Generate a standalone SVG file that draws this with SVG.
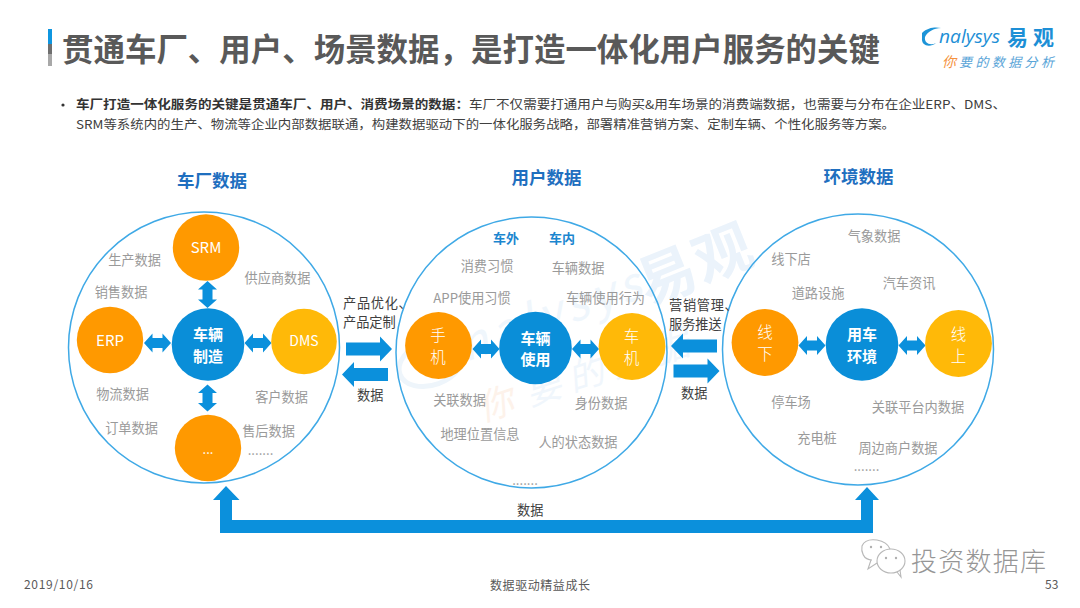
<svg xmlns="http://www.w3.org/2000/svg" width="1080" height="608" viewBox="0 0 1080 608">
<style>
text{font-family:"Noto Sans CJK SC","Noto Sans",sans-serif}
.lbl,.blk,.hd,.sub,.w,.wb,.foot{dominant-baseline:central;transform:translateY(-1.5px)}
.lbl{font-size:13.2px;fill:#9a9a9a;text-anchor:middle}
.blk{font-size:13.2px;fill:#404040;letter-spacing:.7px}
.hd{font-size:17.5px;font-weight:700;fill:#1f6fbf;text-anchor:middle}
.sub{font-size:13px;font-weight:700;fill:#1b86cf;text-anchor:middle}
.ring{fill:none;stroke:#3fa9e6;stroke-width:1.5}
.org{fill:#ff9900}.yel{fill:#ffb908}.blu{fill:#0a8ed8}
.w{fill:#fff;text-anchor:middle;font-size:15px}
.t{font-size:15.5px;font-weight:300}
.wb{fill:#fff;text-anchor:middle;font-size:15px;font-weight:700}
.ar{fill:#0b90dc}
.foot{font-size:12px;fill:#595959}
</style>
<defs>
<polygon id="dh" class="ar" points="-13.5,0 -5,-9.5 -5,-5 5,-5 5,-9.5 13.5,0 5,9.5 5,5 -5,5 -5,9.5"/>
<polygon id="ra" class="ar" points="-23,-6.5 11,-6.5 11,-12.5 23,0 11,12.5 11,6.5 -23,6.5"/>
</defs>
<rect width="1080" height="608" fill="#fff"/>

<g id="watermark">
<ellipse cx="431" cy="363" rx="33" ry="22" transform="rotate(-20 431 363)" fill="none" stroke="#eef5fb" stroke-width="5"/>
<text transform="translate(466 362) rotate(-20)" font-size="46" font-style="italic" fill="#eff6fc" textLength="190">nalysys</text>
<text transform="translate(648 306) rotate(-22)" font-size="58" font-weight="700" fill="#ebf3fb" textLength="118">易观</text>
<text transform="translate(482 422) rotate(-18)" font-size="36" font-style="italic" fill="#fdf2ea">你</text>
<text transform="translate(530 406) rotate(-18)" font-size="36" font-style="italic" fill="#f0f6fc" textLength="170">要的数据</text>
</g>

<g id="title">
<rect x="48" y="29" width="4" height="15" fill="#0f96e0"/>
<rect x="48" y="44" width="4" height="10" fill="#6f6f6f"/>
<rect x="48" y="54" width="4" height="12" fill="#a8a8a8"/>
<text x="62" y="47" font-size="31.5" font-weight="700" fill="#595959" dominant-baseline="central" textLength="818" lengthAdjust="spacingAndGlyphs">贯通车厂、用户、场景数据，是打造一体化用户服务的关键</text>
</g>

<g id="logo">
<path d="M922 33C928 27 936 27 941 28C934 28 927 32 925 37C924 43 930 46 936 43C930 48 921 46 922 38C922 36 922 34 922 33Z" fill="#1d94d8"/>
<text x="939" y="43" font-size="18" font-style="italic" fill="#1d8fd6" textLength="61" lengthAdjust="spacingAndGlyphs" style="font-family:'Open Sans',sans-serif">nalysys</text>
<text x="1007" y="35.5" font-size="21" font-weight="700" fill="#1d8fd6" dominant-baseline="central" textLength="47">易观</text>
<text x="942" y="60.5" font-size="14" font-style="italic" fill="#f5923e" dominant-baseline="central">你</text>
<text x="959" y="61.5" font-size="13" font-style="italic" fill="#5aa5d8" dominant-baseline="central" textLength="95">要的数据分析</text>
</g>

<g id="intro">
<circle cx="63" cy="105" r="1.6" fill="#333"/>
<text x="76" y="104" font-size="12.3" dominant-baseline="central" fill="#404040" textLength="930" lengthAdjust="spacingAndGlyphs"><tspan font-weight="700" fill="#333">车厂打造一体化服务的关键是贯通车厂、用户、消费场景的数据：</tspan>车厂不仅需要打通用户与购买&amp;用车场景的消费端数据，也需要与分布在企业ERP、DMS、</text>
<text x="76" y="124" font-size="12.3" dominant-baseline="central" fill="#404040" textLength="819" lengthAdjust="spacingAndGlyphs">SRM等系统内的生产、物流等企业内部数据联通，构建数据驱动下的一体化服务战略，部署精准营销方案、定制车辆、个性化服务等方案。</text>
</g>

<g id="headings">
<text class="hd" x="212" y="181">车厂数据</text>
<text class="hd" x="546.5" y="178">用户数据</text>
<text class="hd" x="858.5" y="177">环境数据</text>
</g>

<g id="rings">
<circle class="ring" cx="204" cy="347.5" r="135.5"/>
<circle class="ring" cx="531.5" cy="352.5" r="135.5"/>
<circle class="ring" cx="858" cy="349.5" r="135.5"/>
</g>

<g id="connectors">
<use href="#dh" transform="translate(207.5 294.5) rotate(90)"/>
<use href="#dh" transform="translate(207.5 398) rotate(90)"/>
<use href="#dh" transform="translate(157.5 343)"/>
<use href="#dh" transform="translate(258 343)"/>
<use href="#dh" transform="translate(486 349)"/>
<use href="#dh" transform="translate(585.5 349)"/>
<use href="#dh" transform="translate(812 345.5)"/>
<use href="#dh" transform="translate(912 345.5)"/>
<use href="#ra" transform="translate(369 349)"/>
<use href="#ra" transform="translate(365 374.5) rotate(180)"/>
<use href="#ra" transform="translate(694 346) rotate(180)"/>
<use href="#ra" transform="translate(696.5 371)"/>
<polygon class="ar" points="226,486 239.5,500 232,500 232,520 861,520 861,500 855,500 867,487 879,500 873,500 873,533 220,533 220,500 213,500"/>
</g>

<g id="node-srm"><circle class="org" cx="206" cy="247.5" r="33.2"/><text class="w" x="206" y="248">SRM</text></g>
<g id="node-erp"><circle class="org" cx="110" cy="340" r="33.2"/><text class="w" x="110" y="340.5">ERP</text></g>
<g id="node-dms"><circle class="yel" cx="304" cy="341.5" r="32.8"/><text class="w" x="304" y="341.5" style="font-size:14px">DMS</text></g>
<g id="node-more"><circle class="org" cx="208" cy="448" r="33.2"/><text class="w" x="208" y="450" style="font-size:13px">...</text></g>
<g id="node-make"><circle class="blu" cx="208" cy="344.5" r="36.3"/><text class="wb" x="208" y="335">车辆</text><text class="wb" x="208" y="356.5">制造</text></g>

<g id="node-phone"><circle class="org" cx="438.5" cy="345.5" r="33.4"/><text class="w t" x="438" y="335.5">手</text><text class="w t" x="438" y="357">机</text></g>
<g id="node-use"><circle class="blu" cx="535.5" cy="348" r="36.3"/><text class="wb" x="535.5" y="338.5">车辆</text><text class="wb" x="535.5" y="360">使用</text></g>
<g id="node-head"><circle class="yel" cx="632" cy="346.5" r="33.4"/><text class="w t" x="631.5" y="336.5">车</text><text class="w t" x="631.5" y="358">机</text></g>

<g id="node-offline"><circle class="org" cx="765" cy="342.5" r="33.4"/><text class="w t" x="765" y="332.5">线</text><text class="w t" x="765" y="354">下</text></g>
<g id="node-env"><circle class="blu" cx="862" cy="344.5" r="36.3"/><text class="wb" x="862" y="335">用车</text><text class="wb" x="862" y="356.5">环境</text></g>
<g id="node-online"><circle class="yel" cx="958.5" cy="343.5" r="33.4"/><text class="w t" x="958.5" y="334.5">线</text><text class="w t" x="958.5" y="356">上</text></g>

<g id="labels-factory">
<text class="lbl" x="134.5" y="260.5">生产数据</text>
<text class="lbl" x="121" y="293">销售数据</text>
<text class="lbl" x="277.5" y="279">供应商数据</text>
<text class="lbl" x="122.5" y="394.5">物流数据</text>
<text class="lbl" x="131.5" y="428.5">订单数据</text>
<text class="lbl" x="281.5" y="398">客户数据</text>
<text class="lbl" x="268.5" y="432">售后数据</text>
<text class="lbl" x="260.5" y="451">.......</text>
</g>
<g id="labels-user">
<text class="sub" x="506" y="239">车外</text>
<text class="sub" x="562" y="239">车内</text>
<text class="lbl" x="487" y="267">消费习惯</text>
<text class="lbl" x="578" y="269">车辆数据</text>
<text class="lbl" x="472" y="298.5">APP使用习惯</text>
<text class="lbl" x="605.5" y="299">车辆使用行为</text>
<text class="lbl" x="459.5" y="401">关联数据</text>
<text class="lbl" x="601" y="404">身份数据</text>
<text class="lbl" x="480" y="435">地理位置信息</text>
<text class="lbl" x="578" y="443">人的状态数据</text>
<text class="lbl" x="525" y="480.5">.......</text>
</g>
<g id="labels-env">
<text class="lbl" x="874" y="237">气象数据</text>
<text class="lbl" x="791" y="260">线下店</text>
<text class="lbl" x="909" y="284">汽车资讯</text>
<text class="lbl" x="818" y="294">道路设施</text>
<text class="lbl" x="791" y="403">停车场</text>
<text class="lbl" x="918" y="408">关联平台内数据</text>
<text class="lbl" x="817" y="439">充电桩</text>
<text class="lbl" x="898" y="449">周边商户数据</text>
<text class="lbl" x="866.5" y="466.5">.......</text>
</g>
<g id="labels-flow">
<text class="blk" x="343" y="304">产品优化、</text>
<text class="blk" x="343" y="323" style="letter-spacing:0">产品定制</text>
<text class="blk" x="357" y="396" style="letter-spacing:0">数据</text>
<text class="blk" x="669" y="305.5">营销管理、</text>
<text class="blk" x="669" y="324.5" style="letter-spacing:0">服务推送</text>
<text class="blk" x="681" y="394" style="letter-spacing:0">数据</text>
<text class="blk" x="517" y="511" style="letter-spacing:0">数据</text>
</g>

<g id="wechat" fill="none" stroke="#b8b8b8" stroke-width="1.1">
<path d="M872 560C863 560 861 551 862 546C864 541 870 539 877 540C883 541 888 544 890 549"/>
<path d="M871 560L868 569L877 563"/>
<ellipse cx="891" cy="561" rx="14" ry="12"/>
<path d="M897 572L901 577L900 570"/>
<g fill="#b0b0b0" stroke="none"><circle cx="871" cy="547" r="1.2"/><circle cx="881" cy="547" r="1.2"/><circle cx="886" cy="558" r="1.2"/><circle cx="896" cy="558" r="1.2"/></g>
<text x="911" y="559" font-size="26" font-weight="300" fill="#969696" stroke="none" dominant-baseline="central" textLength="135">投资数据库</text>
</g>

<g id="footer">
<text class="foot" x="24" y="585" textLength="69">2019/10/16</text>
<text class="foot" x="490" y="586" textLength="100">数据驱动精益成长</text>
<text class="foot" x="1045" y="585">53</text>
</g>
</svg>
